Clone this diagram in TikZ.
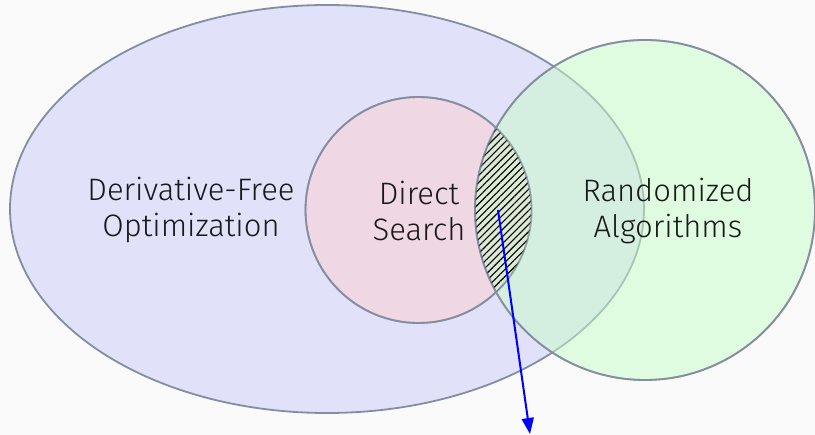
\documentclass[tikz,border=0pt]{standalone}
\usepackage{fontspec}
\setmainfont{Fira Sans Light}
\usetikzlibrary{patterns.meta,arrows.meta}
\definecolor{bgc}{RGB}{250,250,250}
\definecolor{edgec}{RGB}{132,142,160}
\definecolor{dfoc}{RGB}{225,225,250}
\definecolor{dsc}{RGB}{240,215,228}
\definecolor{rac}{RGB}{200,254,200}
\tikzset{
  setline/.style={draw=edgec, line width=1.8pt},
  lbl/.style={align=center, font=\fontsize{31}{36}\selectfont, text=black!90},
}
\begin{document}
\begin{tikzpicture}[x=1pt,y=-1pt]
\fill[bgc] (0,0) rectangle (815,435);
\useasboundingbox (0,0) rectangle (815,435);
\path[setline, fill=dfoc] (327,209) ellipse [x radius=317, y radius=204];
\path[setline, fill=dsc] (418.5,210) circle [radius=113];
\path[setline, fill=rac, fill opacity=0.5] (645,210) circle [radius=170];
\begin{scope}
  \clip (418.5,210) circle [radius=113];
  \fill[pattern={Lines[angle=45, distance=5pt, line width=1.1pt]}, pattern color=black] (645,210) circle [radius=170];
\end{scope}
\draw[draw=edgec, line width=1.8pt, draw opacity=0.6] (418.5,210) circle [radius=113];
\draw[draw=edgec, line width=1.8pt, draw opacity=0.6] (645,210) circle [radius=170];
\node[lbl] (dfo) at (191,210) {Derivative-Free\\Optimization};
\node[lbl] (ds) at (419,211) {Direct\\Search};
\node[lbl] (ra) at (668,211) {Randomized\\Algorithms};
\coordinate (s) at (498,210);
\coordinate (e) at (530,434);
\draw[blue, line width=2pt, -{Triangle[length=16pt,width=12pt]}] (s) -- (e);
\end{tikzpicture}
\end{document}
